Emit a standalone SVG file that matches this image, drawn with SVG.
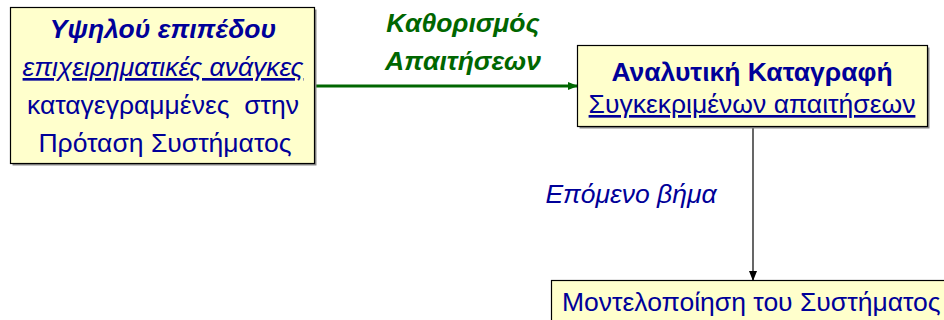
<svg xmlns="http://www.w3.org/2000/svg" width="944" height="320" viewBox="0 0 944 320">
  <style>
    .box { fill: #FFFFCC; stroke: #000000; stroke-width: 1.2; }
    .shadow { fill: #8a8a8a; }
    text { font-family: "Liberation Sans", Arial, sans-serif; font-size: 26.5px; }
    .navy { fill: #000099; }
    .green { fill: #006600; font-weight: bold; font-style: italic; }
    .b { font-weight: bold; }
    .i { font-style: italic; }
    .u { text-decoration: underline; }
  </style>
  <defs>
    <marker id="arrGreen" markerWidth="10" markerHeight="10" refX="9" refY="5" orient="auto" markerUnits="userSpaceOnUse">
      <path d="M0,1 L10,5 L0,9 z" fill="#006600"/>
    </marker>
    <marker id="arrBlack" markerWidth="10" markerHeight="10" refX="9" refY="5" orient="auto" markerUnits="userSpaceOnUse">
      <path d="M0,1 L10,5 L0,9 z" fill="#000000"/>
    </marker>
  </defs>

  <g id="connectors">
    <line x1="316" y1="86" x2="577" y2="86" stroke="#006600" stroke-width="3" marker-end="url(#arrGreen)"/>
    <text class="green" x="463" y="32" text-anchor="middle">Καθορισμός</text>
    <text class="green" x="463" y="70" text-anchor="middle">Απαιτήσεων</text>
    <line x1="753" y1="127" x2="753" y2="280" stroke="#000000" stroke-width="1.2" marker-end="url(#arrBlack)"/>
    <text class="navy i" x="631" y="203" text-anchor="middle">Επόμενο βήμα</text>
  </g>

  <g id="node-high-level">
    <rect class="shadow" x="12.5" y="9.5" width="304" height="156"/>
    <rect class="box" x="10.5" y="7.5" width="304" height="156"/>
    <text class="navy b i" x="163" y="38" text-anchor="middle">Υψηλού επιπέδου</text>
    <text class="navy i u" x="163" y="76" text-anchor="middle">επιχειρηματικές ανάγκες</text>
    <text class="navy" x="163" y="114" text-anchor="middle" xml:space="preserve">καταγεγραμμένες  στην</text>
    <text class="navy" x="165" y="152" text-anchor="middle">Πρόταση Συστήματος</text>
  </g>

  <g id="node-analysis">
    <rect class="shadow" x="579.5" y="47.5" width="350" height="81"/>
    <rect class="box" x="577.5" y="45.5" width="350" height="81"/>
    <text class="navy b" x="752" y="81" text-anchor="middle">Αναλυτική Καταγραφή</text>
    <text class="navy u" x="752" y="113" text-anchor="middle">Συγκεκριμένων απαιτήσεων</text>
  </g>

  <g id="node-modelling">
    <rect class="box" x="551.5" y="280.5" width="420" height="60"/>
    <text class="navy" x="562" y="311">Μοντελοποίηση του Συστήματος</text>
  </g>
</svg>
